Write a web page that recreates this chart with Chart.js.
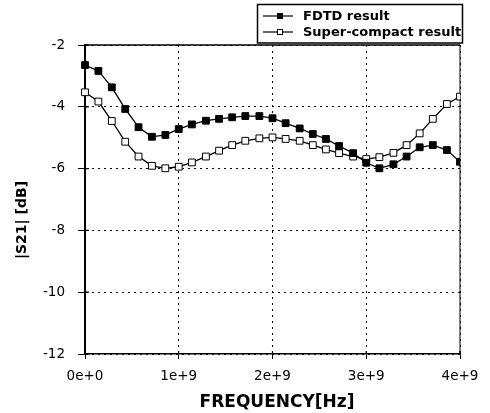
<!DOCTYPE html>
<html>
<head>
<meta charset="utf-8">
<script src="https://cdn.jsdelivr.net/npm/chart.js@4"></script>
<style>
  html, body { margin: 0; padding: 0; background: #fff; }
  #wrap { width: 490px; height: 413px; }
</style>
</head>
<body>
<div id="wrap"><canvas id="s21Chart" width="490" height="413"></canvas></div>
<script>
// values
const freqHz = [
  0, 1.43e8, 2.86e8, 4.29e8, 5.71e8, 7.14e8, 8.57e8, 1.0e9, 1.14e9, 1.29e9,
  1.43e9, 1.57e9, 1.71e9, 1.86e9, 2.0e9, 2.14e9, 2.29e9, 2.43e9, 2.57e9, 2.71e9,
  2.86e9, 3.0e9, 3.14e9, 3.29e9, 3.43e9, 3.57e9, 3.71e9, 3.86e9, 4.0e9
];
const fdtdDb = [
  -2.65, -2.84, -3.37, -4.07, -4.66, -4.97, -4.91, -4.72, -4.57, -4.45,
  -4.39, -4.34, -4.30, -4.30, -4.37, -4.53, -4.70, -4.88, -5.04, -5.27,
  -5.50, -5.81, -5.99, -5.86, -5.61, -5.31, -5.24, -5.40, -5.78
];
const superCompactDb = [
  -3.53, -3.83, -4.46, -5.13, -5.61, -5.91, -5.99, -5.94, -5.80, -5.61,
  -5.42, -5.24, -5.10, -5.02, -4.99, -5.04, -5.10, -5.24, -5.38, -5.50,
  -5.61, -5.69, -5.63, -5.49, -5.24, -4.86, -4.39, -3.91, -3.67
];
const xTickLabels = ['0e+0', '1e+9', '2e+9', '3e+9', '4e+9'];
const seriesNames = ['FDTD result', 'Super-compact result'];

const tickFont = { family: 'DejaVu Sans', size: 13.5 };

// top/right frame, inner tick stubs, axis titles and the boxed legend
const extrasPlugin = {
  id: 'extras',
  beforeDatasetsDraw(chart) {
    const { ctx, chartArea: a, scales } = chart;
    ctx.save();
    ctx.strokeStyle = '#000';
    ctx.lineWidth = 1.5;
    ctx.beginPath();
    ctx.moveTo(a.left, a.top);
    ctx.lineTo(a.right, a.top);
    ctx.stroke();
    ctx.lineWidth = 1;
    ctx.beginPath();
    ctx.moveTo(a.right, a.top);
    ctx.lineTo(a.right, a.bottom);
    ctx.stroke();
    // ticks cross the axes a little into the plot
    ctx.lineWidth = 1.2;
    ctx.beginPath();
    scales.y.ticks.forEach(t => {
      const py = scales.y.getPixelForValue(t.value);
      ctx.moveTo(a.left, py);
      ctx.lineTo(a.left + 4, py);
    });
    scales.x.ticks.forEach(t => {
      const px = scales.x.getPixelForValue(t.value);
      ctx.moveTo(px, a.bottom);
      ctx.lineTo(px, a.bottom - 3);
    });
    ctx.stroke();
    ctx.restore();
  },
  afterDraw(chart) {
    const { ctx } = chart;
    ctx.save();
    ctx.fillStyle = '#000';
    ctx.textAlign = 'center';
    ctx.textBaseline = 'middle';
    ctx.font = 'bold 17px "DejaVu Sans"';
    ctx.fillText('FREQUENCY[Hz]', 277, 403);
    ctx.translate(22, 220);
    ctx.rotate(-Math.PI / 2);
    ctx.font = 'bold 14px "DejaVu Sans"';
    ctx.fillText('|S21| [dB]', 0, 0);
    ctx.restore();

    // legend
    ctx.save();
    ctx.fillStyle = '#fff';
    ctx.fillRect(257, 4, 206, 39);
    ctx.strokeStyle = '#000';
    ctx.lineWidth = 1.5;
    ctx.strokeRect(257.5, 4.5, 205, 38.5);
    ctx.font = 'bold 13px "DejaVu Sans"';
    ctx.textAlign = 'left';
    ctx.textBaseline = 'middle';
    chart.data.datasets.forEach((ds, i) => {
      const y = 16 + i * 16;
      ctx.strokeStyle = '#000';
      ctx.lineWidth = 1.2;
      ctx.beginPath();
      ctx.moveTo(263, y);
      ctx.lineTo(293, y);
      ctx.stroke();
      ctx.fillStyle = ds.pointBackgroundColor;
      ctx.lineWidth = 1;
      ctx.fillRect(277.5, y - 2.5, 5, 5);
      ctx.strokeRect(277.5, y - 2.5, 5, 5);
      ctx.fillStyle = '#000';
      ctx.fillText(ds.label, 303, y + 0.5);
    });
    ctx.restore();
  }
};

const toPoints = vals => freqHz.map((f, i) => ({ x: f, y: vals[i] }));

new Chart(document.getElementById('s21Chart'), {
  type: 'line',
  data: {
    datasets: [
      {
        label: seriesNames[0],
        data: toPoints(fdtdDb),
        borderColor: '#000',
        borderWidth: 1.3,
        pointStyle: 'rect',
        pointRadius: 4.8,
        pointBorderWidth: 1,
        pointBorderColor: '#000',
        pointBackgroundColor: '#000',
        tension: 0,
        clip: { left: 6, right: 0, top: 6, bottom: 6 }
      },
      {
        label: seriesNames[1],
        data: toPoints(superCompactDb),
        borderColor: '#000',
        borderWidth: 1.3,
        pointStyle: 'rect',
        pointRadius: 4.8,
        pointBorderWidth: 1,
        pointBorderColor: '#000',
        pointBackgroundColor: '#fff',
        tension: 0,
        clip: { left: 6, right: 0, top: 6, bottom: 6 }
      }
    ]
  },
  options: {
    responsive: false,
    animation: false,
    devicePixelRatio: 1,
    layout: { padding: { top: 45, right: 30, left: 0, bottom: 0 } },
    scales: {
      x: {
        type: 'linear',
        min: 0,
        max: 4e9,
        afterFit: s => { s.height = 59; },
        ticks: {
          stepSize: 1e9,
          padding: 9,
          color: '#000',
          font: tickFont,
          maxRotation: 0,
          callback: v => xTickLabels[Math.round(v / 1e9)]
        },
        grid: { color: '#000', lineWidth: 1, tickLength: 5 },
        border: { display: true, color: '#000', width: 1.5, dash: [2, 4] }
      },
      y: {
        min: -12,
        max: -2,
        afterFit: s => { s.width = 85; },
        ticks: { stepSize: 2, padding: 13, color: '#000', font: tickFont },
        grid: { color: '#000', lineWidth: 1, tickLength: 7 },
        border: { display: true, color: '#000', width: 2, dash: [2, 4] }
      }
    },
    plugins: {
      legend: { display: false },
      tooltip: { enabled: false }
    }
  },
  plugins: [extrasPlugin]
});
</script>
</body>
</html>
